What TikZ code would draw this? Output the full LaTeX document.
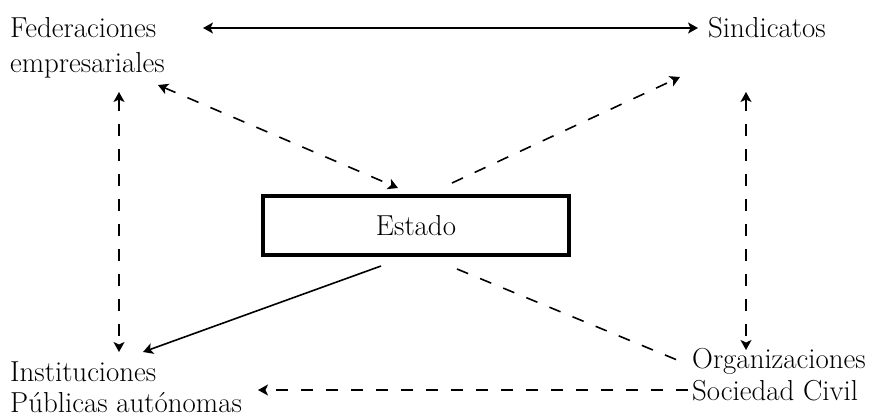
\documentclass[tikz,border=0pt]{standalone}
\usepackage{fontspec}
\usetikzlibrary{arrows.meta}

\tikzset{
  lbl/.style={inner sep=0pt, anchor=base west, align=left,
    font=\fontsize{29}{#1}\selectfont},
  lbl/.default=35,
  link/.style={line width=1.6bp},
  dashlink/.style={link, dash pattern=on 12bp off 13bp},
  box/.style={draw, line width=4bp, minimum width=306bp, minimum height=59bp,
    font=\fontsize{29}{35}\selectfont},
}

\begin{document}
\begin{tikzpicture}[x=1bp,y=1bp,>={Stealth[length=10bp,width=11bp,inset=2.5bp]}]
\useasboundingbox (0,0) rectangle (881,417);
% actors (base = last line)
\node[lbl] (fed) at (10,345) {Federaciones\\empresariales};
\node[lbl] (sind) at (708,380) {Sindicatos};
\node[lbl=31] (inst) at (10,5) {Instituciones\\P\'ublicas aut\'onomas};
\node[lbl=32] (org) at (692,17) {Organizaciones\\Sociedad Civil};
\node[box] (estado) at (416,191.5) {Estado};
% relations
\draw[link,<->] ([shift={(193,44)}]fed.base west) -- ([shift={(-10,9)}]sind.base west);
\draw[dashlink,<->] ([shift={(148,-13)}]fed.base west) -- ([shift={(-18,6)}]estado.north);
\draw[dashlink,->] ([shift={(36,11)}]estado.north) -- ([shift={(-28,-40)}]sind.base west);
\draw[dashlink,<->] ([shift={(109,-20)}]fed.base west) -- ([shift={(109,60)}]inst.base west);
\draw[dashlink,<->] ([shift={(38,-55)}]sind.base west) -- ([shift={(54,50)}]org.base west);
\draw[link,->] ([shift={(-35,-9)}]estado.south) -- ([shift={(133,60)}]inst.base west);
\draw[dashlink] ([shift={(41,-12)}]estado.south) -- ([shift={(-10,38)}]org.base west);
\draw[dashlink,->] ([shift={(-4,10)}]org.base west) -- ([shift={(248,22)}]inst.base west);
\end{tikzpicture}
\end{document}
